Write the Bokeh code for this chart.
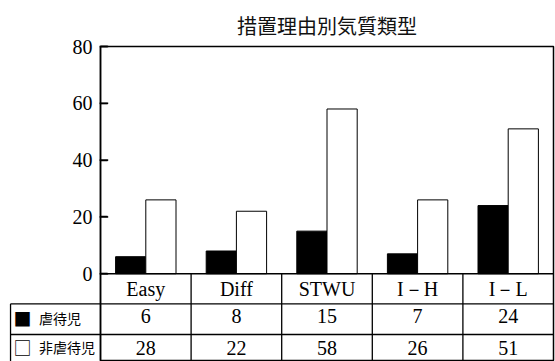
from bokeh.plotting import figure
from bokeh.models import Range1d, FixedTicker, ColumnDataSource
from bokeh.core.properties import value
from bokeh.embed import file_html
from bokeh.resources import INLINE

# ---- data ----
categories = ["Easy", "Diff", "STWU", "I－H", "I－L"]
series_names = ["虐待児", "非虐待児"]
legend_marks = ["■", "□"]
abused = [6, 8, 15, 7, 24]
nonabused_bars = [26, 22, 58, 26, 51]
nonabused_table = ["28", "22", "58", "26", "51"]
abused_table = ["6", "8", "15", "7", "24"]
y_ticks = [0, 20, 40, 60, 80]
title_text = "措置理由別気質類型"

SERIF = "Liberation Serif"
CJK = "Noto Sans CJK JP"

n = len(categories)
Y_MIN = -30.9
ROW1 = -10.6   # boundary between category row and first data row
ROW2 = -21.4   # boundary between the two data rows
LEFT = -0.993  # left edge of the table legend column
TICK_LEN = 0.085

p = figure(width=555, height=361, output_backend="svg", toolbar_location=None,
           x_range=Range1d(0, n), y_range=Range1d(Y_MIN, 80),
           x_axis_location=None, y_axis_location="left",
           min_border_left=100, min_border_right=2, min_border_top=46,
           min_border_bottom=0, background_fill_color="white",
           border_fill_color="white")

p.title.text = title_text
p.title.align = "center"
p.title.text_font = CJK
p.title.text_font_size = "20px"
p.title.text_font_style = "normal"
p.title.text_color = "#111111"
p.title.standoff = 13

p.xgrid.visible = False
p.ygrid.visible = False
p.outline_line_color = "black"
p.outline_line_width = 1.5

ax = p.yaxis[0]
ax.ticker = FixedTicker(ticks=y_ticks)
ax.major_tick_in = 7
ax.major_tick_out = 0
ax.major_tick_line_width = 1.6
ax.major_tick_line_color = "black"
ax.minor_tick_line_color = None
ax.axis_line_width = 1.5
ax.axis_line_color = "black"
ax.major_label_text_font = SERIF
ax.major_label_text_font_size = "20px"
ax.major_label_text_color = "black"
ax.major_label_standoff = 8

# ---- bars ----
xs = list(range(n))
src = ColumnDataSource(dict(
    xa=[i + 1/3 for i in xs], xb=[i + 2/3 for i in xs], xc=[i + 0.5 for i in xs],
    abused=abused, nonabused=nonabused_bars, cat=categories,
    at=abused_table, nt=nonabused_table))

p.vbar(x="xa", top="abused", bottom=0, width=1/3, source=src,
       fill_color="black", line_color="black", line_width=1)
p.vbar(x="xb", top="nonabused", bottom=0, width=1/3, source=src,
       fill_color="white", line_color="black", line_width=1)

# inward tick marks on the value axis, drawn as segments as well
p.segment(x0=[-0.01] * len(y_ticks), x1=[TICK_LEN] * len(y_ticks),
          y0=y_ticks, y1=y_ticks, line_color="black", line_width=1.6,
          level="overlay")

# ---- table grid ----
p.segment(x0=[0, LEFT, LEFT], x1=[n, n, n], y0=[0, ROW1, ROW2], y1=[0, ROW1, ROW2],
          line_color="black", line_width=1.3, level="overlay")
p.segment(x0=[1, 2, 3, 4, LEFT], x1=[1, 2, 3, 4, LEFT],
          y0=[0, 0, 0, 0, ROW1], y1=[Y_MIN, Y_MIN, Y_MIN, Y_MIN, Y_MIN],
          line_color="black", line_width=1.3, level="overlay")

# ---- table texts ----
p.text(x="xc", y=-5.2, text="cat", source=src, text_font=value(SERIF),
       text_font_size="20px", text_align="center", text_baseline="middle",
       text_color="black", level="overlay")
p.text(x="xc", y=-14.8, text="at", source=src, text_font=value(SERIF),
       text_font_size="20px", text_align="center", text_baseline="middle",
       text_color="black", level="overlay")
p.text(x="xc", y=-26.1, text="nt", source=src, text_font=value(SERIF),
       text_font_size="20px", text_align="center", text_baseline="middle",
       text_color="black", level="overlay")

# ---- legend column ----
p.text(x=[-0.96, -0.96], y=[-15.6, -25.9], text=legend_marks,
       text_font=value(CJK), text_font_size="18px", text_align="left",
       text_baseline="middle", text_color="black", level="overlay")
p.text(x=[-0.68, -0.68], y=[-15.6, -25.9], text=series_names,
       text_font=value(CJK), text_font_size="14px", text_align="left",
       text_baseline="middle", text_color="black", level="overlay")

open("out.html", "w").write(file_html(p, INLINE))
